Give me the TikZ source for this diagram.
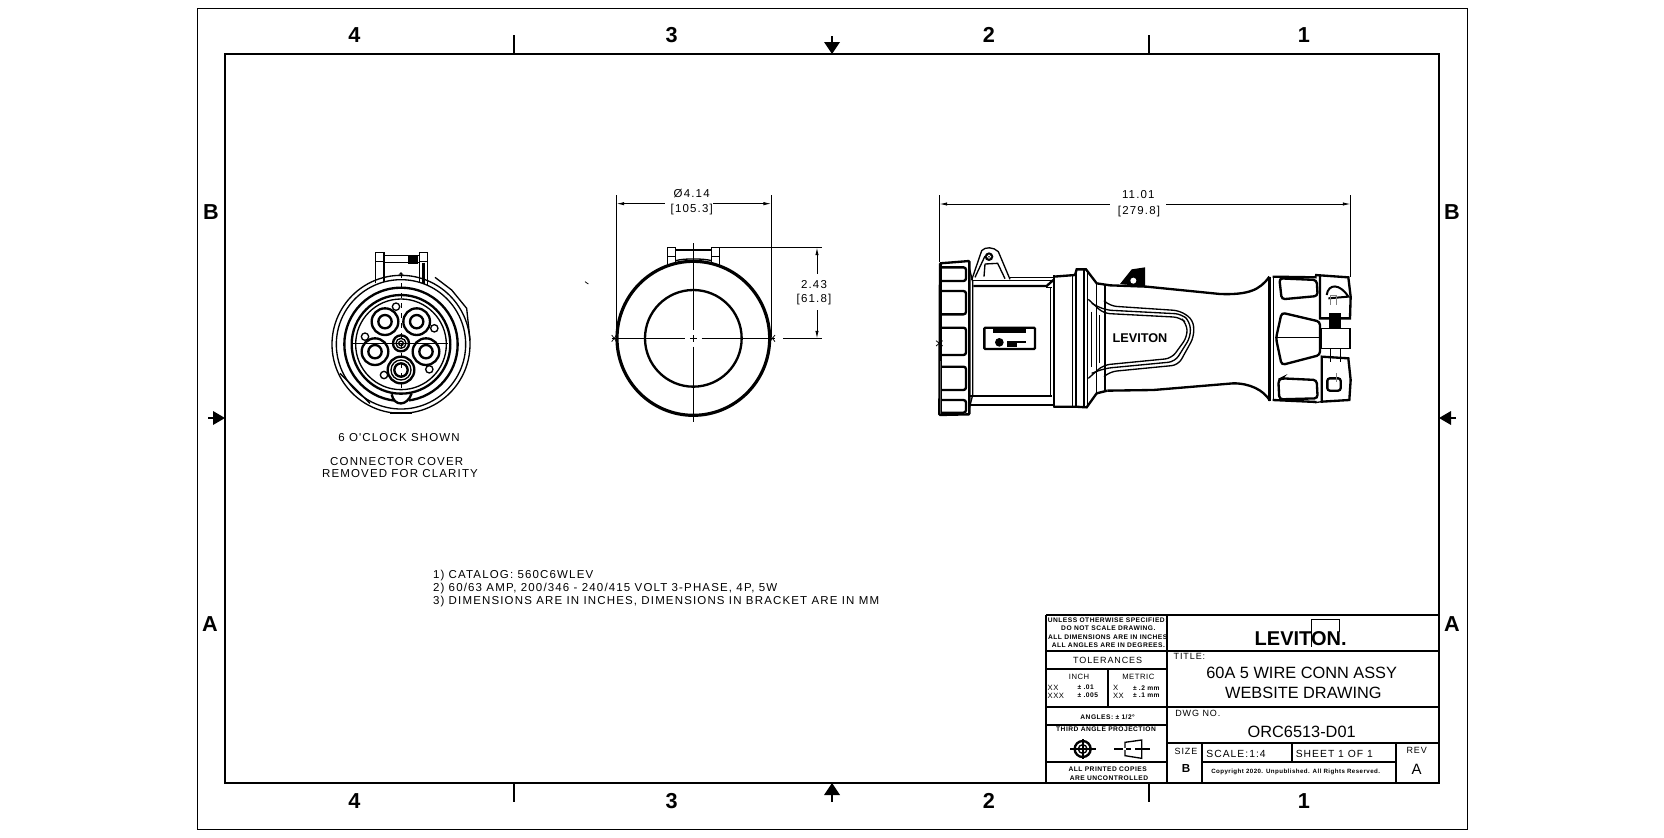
\documentclass[tikz,border=0pt]{standalone}
\usepackage{fontspec}
\setmainfont{Liberation Sans}
\usetikzlibrary{arrows.meta}
\newfontfamily\dwgfont[LetterSpace=10]{Liberation Sans}
\newfontfamily\tblfont[LetterSpace=7]{Liberation Sans}
\tikzset{
  sheetline/.style={line width=0.6pt},
  borderline/.style={line width=1.7pt},
  tickline/.style={line width=0.8pt},
  blockline/.style={line width=1.2pt},
  partline/.style={line width=0.8pt},
  heavyline/.style={line width=1.4pt},
  thinline/.style={line width=0.45pt},
  dimline/.style={line width=0.45pt, {Latex[length=4.5pt,width=2pt]}-{Latex[length=4.5pt,width=2pt]}},
  zonetext/.style={font=\fontsize{13}{15}\selectfont\bfseries},
  dimtext/.style={font=\fontsize{6.9}{8}\selectfont\dwgfont, inner sep=0pt},
  notetext/.style={font=\fontsize{6.9}{8}\selectfont\dwgfont, inner sep=0pt, anchor=west},
  tinytext/.style={font=\fontsize{4}{5}\selectfont\tblfont\bfseries, inner sep=0pt},
  smalltext/.style={font=\fontsize{5.4}{6}\selectfont\dwgfont, inner sep=0pt},
  titletext/.style={font=\fontsize{9.8}{11}\selectfont, inner sep=0pt},
}
\begin{document}
\begin{tikzpicture}[x=0.6pt, y=-0.6pt]
  \useasboundingbox (0,0) rectangle (1664,837);
  \draw[sheetline] (197.5,8.5) rectangle (1467,829);
  \draw[borderline] (225,54) rectangle (1439,783);
  \foreach \tx in {514,1149} {
    \draw[tickline] (\tx,35) -- (\tx,54);
    \draw[tickline] (\tx,783) -- (\tx,802);
  }
  \draw[tickline] (832,36) -- (832,45);
  \fill (824,42) -- (840,42) -- (832,54) -- cycle;
  \draw[tickline] (832,802) -- (832,792);
  \fill (824,795) -- (840,795) -- (832,783) -- cycle;
  \draw[tickline] (208,418) -- (216,418);
  \fill (213,411) -- (213,425) -- (225,418) -- cycle;
  \draw[tickline] (1456,418) -- (1448,418);
  \fill (1451,411) -- (1451,425) -- (1439,418) -- cycle;
  \foreach \zname/\zx/\ztext in {fourt/354.5/4, threet/671.7/3, twot/989/2, onet/1304/1}
    \node[zonetext] (\zname) at (\zx,35) {\ztext};
  \foreach \zname/\zx/\ztext in {fourb/354.5/4, threeb/671.7/3, twob/989/2, oneb/1304/1}
    \node[zonetext] (\zname) at (\zx,801) {\ztext};
  \node[zonetext] (bleft) at (211,212) {B};
  \node[zonetext] (bright) at (1452,212) {B};
  \node[zonetext] (aleft) at (210,624) {A};
  \node[zonetext] (aright) at (1452,624) {A};

  \begin{scope}[shift={(320,240)}, x=0.2pt, y=-0.2pt]
    \draw[partline] (243,313) circle (207);
    \draw[partline] (243,313) circle (194);
    \draw[heavyline] (243,313) circle (170);
    \draw[heavyline] (243,313) circle (148);
    \draw[partline] (243,313) circle (136);
    \draw[partline] (345,112) -- (395,150) -- (440,205) -- (450,300);
    \draw[partline] (60,400) -- (100,440) -- (150,490);
    \foreach \pinx/\piny in {195/245, 290/245, 165/335, 318/335, 243/390} {
      \draw[heavyline, fill=white] (\pinx,\piny) circle (40);
      \draw[heavyline] (\pinx,\piny) circle (20);
    }
    \draw[partline] (243,390) circle (30);
    \foreach \keyx/\keyy in {228/200, 343/265, 135/290, 328/388, 192/405}
      \draw[partline, fill=white] (\keyx,\keyy) circle (11);
    \draw[heavyline, fill=white] (243,310) circle (24);
    \draw[partline] (243,310) circle (15);
    \draw[partline] (243,310) circle (7);
    \draw[thinline] (100,310) -- (385,310);
    \draw[thinline, dashed] (243,100) -- (243,465);
    \draw[white, line width=3pt] (222,478) -- (268,478);
    \draw[heavyline] (215,463) .. controls (222,500) and (262,500) .. (275,460);
    \draw[heavyline] (210,518) -- (275,518);
    \draw[partline] (167,130) -- (167,38) -- (192,38) -- (192,125);
    \draw[partline] (298,125) -- (298,38) -- (322,38) -- (322,135);
    \draw[partline] (167,65) -- (192,65);
    \draw[partline] (298,65) -- (322,65);
    \draw[partline] (192,46) -- (298,46);
    \draw[partline] (192,68) -- (298,68);
    \fill (265,48) rectangle (295,72);
    \draw[line width=1.5pt] (311,68) -- (311,132);
    \fill (236,104) -- (243,96) -- (250,104) -- cycle;
  \end{scope}
  \node[dimtext] (clocktxt) at (399,437.7) {6 O'CLOCK SHOWN};
  \node[dimtext] (covertxt) at (396.7,461.7) {CONNECTOR COVER};
  \node[dimtext] (cleartxt) at (400,473.3) {REMOVED FOR CLARITY};

  \begin{scope}[shift={(300,170)}, x=0.2pt, y=-0.2pt]
    \draw[line width=1.9pt] (1180,505) ellipse (229 and 231);
    \draw[heavyline] (1180,505) circle (145);
    \draw[partline] (1103,285) -- (1103,233) -- (1127,233) -- (1127,282);
    \draw[partline] (1235,278) -- (1235,233) -- (1258,233) -- (1258,290);
    \draw[partline] (1103,260) -- (1127,260);
    \draw[partline] (1235,260) -- (1258,260);
    \draw[partline] (1127,240) -- (1235,240);
    \draw[partline] (1127,272) .. controls (1150,265) and (1210,265) .. (1235,272);
    \draw[thinline] (1180,220) -- (1180,480);
    \draw[thinline] (1180,495) -- (1180,515);
    \draw[thinline] (1180,530) -- (1180,755);
    \draw[thinline] (935,505) -- (1155,505);
    \draw[thinline] (1170,505) -- (1190,505);
    \draw[thinline] (1205,505) -- (1425,505);
    \draw[thinline] (935,495) -- (950,515);
    \draw[thinline] (935,515) -- (950,495);
    \draw[thinline] (1410,495) -- (1425,515);
    \draw[thinline] (1410,515) -- (1425,495);
    \draw[thinline] (855,335) -- (865,342);
    \coordinate (diaL) at (950,101);
    \coordinate (diaR) at (1413,101);
    \coordinate (diaLtop) at (950,75);
    \coordinate (diaLbot) at (950,500);
    \coordinate (diaRtop) at (1413,75);
    \coordinate (diaRbot) at (1413,500);
    \coordinate (hgtTopStart) at (1258,233);
    \coordinate (hgtTopEnd) at (1566,233);
    \coordinate (hgtBotStart) at (1450,505);
    \coordinate (hgtBotEnd) at (1566,505);
    \coordinate (hgtT) at (1551,233);
    \coordinate (hgtB) at (1551,505);
  \end{scope}
  \draw[thinline] (diaLtop) -- (diaLbot);
  \draw[thinline] (diaRtop) -- (diaRbot);
  \path[dimline] (diaL) edge (diaR);
  \draw[thinline] (hgtTopStart) -- (hgtTopEnd);
  \draw[thinline] (hgtBotStart) -- (hgtBotEnd);
  \path[dimline] (hgtT) edge (hgtB);
  \node[dimtext, fill=white, minimum width=29pt, minimum height=22pt] (diatxt) at (689,203) {};
  \node[dimtext] (diaval) at (691.7,194) {Ø4.14};
  \node[dimtext] (diamm) at (691.7,210) {[105.3]};
  \node[dimtext, fill=white, minimum width=24pt, minimum height=22pt] (hgtbg) at (814,292) {};
  \node[dimtext] (hgtval) at (814,284.5) {2.43};
  \node[dimtext] (hgtmm) at (814,300) {[61.8]};

  \begin{scope}[shift={(920,180)}, x=0.2pt, y=-0.2pt]
    \draw[partline] (155,300) -- (185,212) .. controls (195,200) and (220,200) .. (235,215) -- (270,298);
    \draw[partline] (165,292) -- (195,228);
    \draw[partline] (195,252) -- (233,250) -- (255,296);
    \draw[partline] (195,252) -- (192,290);
    \fill (207,230) circle (13);
    \draw[white, thinline] (207,230) circle (5);
    \draw[heavyline, rounded corners=0.5pt] (148,243) -- (60,250) -- (58,705) -- (148,703) -- cycle;
    \draw[partline] (65,250) -- (65,705);
    \draw[partline] (148,265) -- (158,305) -- (158,645) -- (148,685);
    \foreach \lobet/\lobeb in {262/303, 333/403, 443/525, 560/630, 660/698}
      \draw[heavyline, rounded corners=1.5pt] (65,\lobet) -- (138,\lobet) -- (138,\lobeb) -- (65,\lobeb);
    \draw[partline] (270,292) -- (400,292);
    \draw[heavyline] (160,318) -- (380,318) -- (400,300);
    \draw[partline] (380,318) -- (380,322) -- (395,322);
    \draw[partline] (160,302) -- (400,302);
    \draw[heavyline] (150,648) -- (395,648);
    \draw[heavyline] (150,674) -- (400,674);
    \draw[partline] (392,322) -- (392,648);
    \draw[heavyline, rounded corners=0.6pt] (193,443) rectangle (345,507);
    \fill (218,447) rectangle (318,458);
    \fill (238,487) circle (13);
    \fill (262,483) rectangle (318,488);
    \fill (262,490) rectangle (290,500);
    \draw[heavyline] (400,290) -- (465,285) -- (470,268) -- (498,268) -- (530,310) -- (570,316);
    \draw[heavyline] (400,680) -- (465,680) -- (500,682) -- (530,640) -- (562,632);
    \draw[heavyline] (402,285) -- (402,682);
    \draw[partline] (458,285) -- (458,682);
    \draw[partline] (468,270) -- (468,680);
    \draw[partline] (492,270) -- (492,680);
    \draw[partline] (502,275) -- (502,680);
    \draw[partline] (530,310) -- (530,640);
    \draw[partline] (555,316) -- (555,632);
    \draw[heavyline] (570,316) -- (680,320) -- (900,342) .. controls (985,345) and (1020,330) .. (1048,290);
    \draw[heavyline] (562,632) -- (700,630) -- (940,610) .. controls (990,610) and (1030,630) .. (1050,662);
    \fill (600,312) -- (635,268) -- (675,262) -- (675,320) -- cycle;
    \fill[white] (640,302) circle (9);
    \draw[partline, rounded corners=4pt] (505,358) -- (550,400) -- (780,412) -- (800,430) -- (802,470) -- (755,535) -- (550,555) -- (505,595);
    \draw[partline, rounded corners=4pt] (515,370) -- (555,390) -- (785,402) -- (810,425) -- (812,470) -- (765,545) -- (555,565) -- (515,580);
    \draw[partline, rounded corners=4pt] (552,362) -- (570,378) -- (780,392) -- (820,420) -- (822,470) -- (775,555) -- (570,575) -- (552,590);
    \draw[partline] (515,395) -- (515,560);
    \draw[partline] (538,405) -- (538,550);
    \node[font=\fontsize{7.6}{9}\selectfont\bfseries, inner sep=0pt] (logotxt) at (660,475) {LEVITON};
    \draw[heavyline] (1048,290) -- (1048,662);
    \draw[partline] (1060,290) -- (1060,660);
    \draw[heavyline] (1058,290) -- (1190,292);
    \draw[heavyline] (1058,660) -- (1190,666);
    \draw[heavyline, rounded corners=2pt] (1078,295) -- (1190,300) -- (1193,348) -- (1085,358) -- cycle;
    \draw[heavyline, rounded corners=2pt] (1085,398) -- (1200,425) -- (1200,525) -- (1085,555) -- (1068,475) -- cycle;
    \draw[heavyline, rounded corners=2pt] (1085,595) -- (1190,600) -- (1193,655) -- (1078,658) -- (1075,600) -- cycle;
    \draw[heavyline] (1185,285) -- (1285,292) -- (1292,350) -- (1290,415) -- (1200,415) -- (1200,288);
    \draw[heavyline] (1205,530) -- (1285,535) -- (1292,600) -- (1288,660) -- (1205,665) -- cycle;
    \draw[partline] (1185,668) -- (1205,665);
    \draw[partline] (1205,445) rectangle (1290,505);
    \fill (1228,398) rectangle (1262,445);
    \draw[partline] (1232,505) -- (1232,545);
    \draw[partline] (1262,505) -- (1262,545);
    \draw[line width=1.2pt] (1220,345) .. controls (1225,310) and (1260,310) .. (1285,350) -- (1225,355);
    \draw[heavyline, rounded corners=1.5pt] (1222,595) rectangle (1262,632);
    \draw[gray, thinline] (1230,345) -- (1250,345);
    \draw[gray, thinline] (1230,345) -- (1230,375);
    \draw[gray, thinline] (1250,345) -- (1250,375);
    \draw[gray, partline] (1250,580) -- (1250,605);
    \draw[thinline] (1065,472) -- (1205,472);
    \draw[thinline] (48,482) -- (68,498);
    \draw[thinline] (48,498) -- (68,482);
    \coordinate (lenL) at (59,72);
    \coordinate (lenR) at (1291,72);
    \coordinate (lenLtop) at (59,45);
    \coordinate (lenLbot) at (59,245);
    \coordinate (lenRtop) at (1291,45);
    \coordinate (lenRbot) at (1291,290);
  \end{scope}
  \draw[thinline] (lenLtop) -- (lenLbot);
  \draw[thinline] (lenRtop) -- (lenRbot);
  \path[dimline] (lenL) edge (lenR);
  \node[dimtext, fill=white, minimum width=34pt, minimum height=20pt] (lenbg) at (1138,204) {};
  \node[dimtext] (lenval) at (1138.3,195) {11.01};
  \node[dimtext] (lenmm) at (1139,211.7) {[279.8]};

  \node[notetext] (noteone) at (432.7,576) {1) CATALOG: 560C6WLEV};
  \node[notetext] (notetwo) at (432.7,588.7) {2) 60/63 AMP, 200/346 - 240/415 VOLT 3-PHASE, 4P, 5W};
  \node[notetext] (notethree) at (432.7,601.7) {3) DIMENSIONS ARE IN INCHES, DIMENSIONS IN BRACKET ARE IN MM};

  \begin{scope}[shift={(1040,605)}, x=0.2pt, y=-0.2pt]
    \fill[white] (18,30) rectangle (1195,530);
    \draw[blockline] (18,30) -- (1195,30);
    \draw[blockline] (18,30) -- (18,530);
    \draw[blockline] (382,30) -- (382,530);
    \draw[blockline] (382,138) -- (1195,138);
    \draw[blockline] (382,305) -- (1195,305);
    \draw[blockline] (382,413) -- (1195,413);
    \draw[blockline] (485,413) -- (485,530);
    \draw[blockline] (755,413) -- (755,472);
    \draw[blockline] (1068,413) -- (1068,530);
    \draw[blockline] (485,472) -- (1068,472);
    \draw[blockline] (18,138) -- (382,138);
    \draw[blockline] (18,193) -- (382,193);
    \draw[blockline] (18,305) -- (382,305);
    \draw[blockline] (18,360) -- (382,360);
    \draw[blockline] (18,472) -- (382,472);
    \draw[blockline] (203,193) -- (203,305);
    \node[tinytext] (genone) at (203,47) {UNLESS OTHERWISE SPECIFIED:};
    \node[tinytext] (gentwo) at (205,70) {DO NOT SCALE DRAWING.};
    \node[tinytext] (genthree) at (203,96) {ALL DIMENSIONS ARE IN INCHES};
    \node[tinytext] (genfour) at (205,121) {ALL ANGLES ARE IN DEGREES.};
    \node[smalltext] (toltxt) at (203,165) {TOLERANCES};
    \node[smalltext, font=\fontsize{4.6}{5}\selectfont\tblfont] (inchtxt) at (117,217) {INCH};
    \node[smalltext, font=\fontsize{4.6}{5}\selectfont\tblfont] (metrictxt) at (295,217) {METRIC};
    \node[tinytext, font=\fontsize{4.6}{5}\selectfont\tblfont, anchor=west] (xxa) at (22,248) {XX};
    \node[tinytext, font=\fontsize{4.6}{5}\selectfont\tblfont, anchor=west] (xxb) at (22,272) {XXX};
    \node[tinytext, anchor=west] (xxc) at (112,248) {± .01};
    \node[tinytext, anchor=west] (xxd) at (112,272) {± .005};
    \node[tinytext, font=\fontsize{4.6}{5}\selectfont\tblfont, anchor=west] (xa) at (218,248) {X};
    \node[tinytext, font=\fontsize{4.6}{5}\selectfont\tblfont, anchor=west] (xb) at (218,272) {XX};
    \node[tinytext, anchor=west] (xc) at (278,248) {± .2 mm};
    \node[tinytext, anchor=west] (xd) at (278,272) {± .1 mm};
    \node[tinytext] (angtxt) at (203,336) {ANGLES: ± 1/2°};
    \node[tinytext] (thirdtxt) at (198,374) {THIRD ANGLE PROJECTION};
    \draw[heavyline] (128,432) circle (24);
    \draw[partline] (128,432) circle (13);
    \draw[heavyline] (90,432) -- (168,432);
    \draw[heavyline] (128,402) -- (128,462);
    \draw[partline] (255,412) -- (305,405) -- (305,460) -- (255,452) -- cycle;
    \draw[partline] (222,432) -- (330,432);
    \fill[white] (248,428) rectangle (258,436);
    \fill[white] (272,428) rectangle (285,436);
    \node[tinytext] (copyone) at (203,494) {ALL PRINTED COPIES};
    \node[tinytext] (copytwo) at (207,519) {ARE UNCONTROLLED};
    \draw[thinline] (815,125) -- (815,42) -- (897,42) -- (897,80);
    \node[font=\fontsize{12}{13}\selectfont\bfseries, inner sep=0pt] (logomain) at (782,102) {LEVITON.};
    \node[smalltext, anchor=west] (titlelbl) at (400,155) {TITLE:};
    \node[titletext] (titleone) at (785,205) {60A 5 WIRE CONN ASSY};
    \node[titletext] (titletwo) at (790,265) {WEBSITE DRAWING};
    \node[smalltext, anchor=west] (dwglbl) at (405,325) {DWG NO.};
    \node[titletext] (dwgno) at (785,380) {ORC6513-D01};
    \node[smalltext] (sizelbl) at (438,440) {SIZE};
    \node[font=\fontsize{7}{8}\selectfont\bfseries, inner sep=0pt] (sizeval) at (438,490) {B};
    \node[smalltext, font=\fontsize{6.2}{7}\selectfont\dwgfont, anchor=west] (scaletxt) at (498,448) {SCALE:1:4};
    \node[smalltext, font=\fontsize{6.2}{7}\selectfont\dwgfont] (sheettxt) at (883,448) {SHEET 1 OF 1};
    \node[smalltext] (revlbl) at (1130,437) {REV};
    \node[font=\fontsize{9}{10}\selectfont, inner sep=0pt] (revval) at (1130,492) {A};
    \node[tinytext, font=\fontsize{3.7}{5}\selectfont\tblfont\bfseries] (copyright) at (767,500) {Copyright 2020. Unpublished. All Rights Reserved.};
  \end{scope}
\end{tikzpicture}
\end{document}
